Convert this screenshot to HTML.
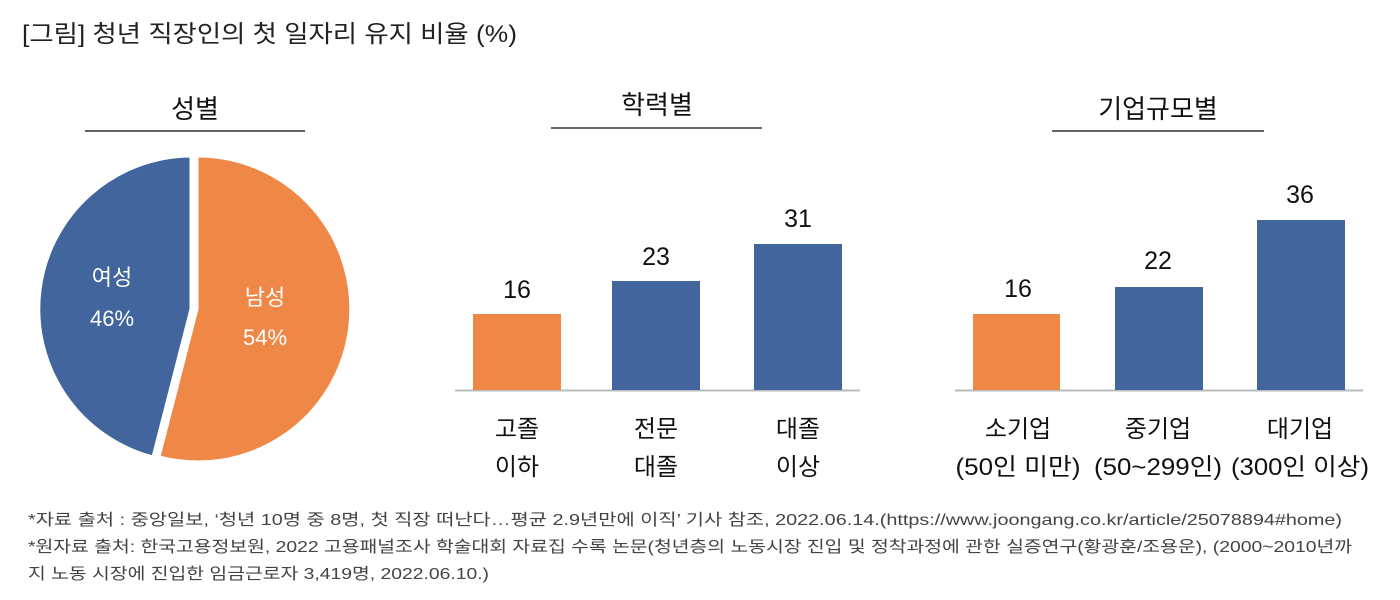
<!DOCTYPE html>
<html><head><meta charset="utf-8"><style>
html,body{margin:0;padding:0;background:#fff;}
svg{display:block;font-family:"Liberation Sans","Noto Sans CJK KR",sans-serif;}
</style></head><body>
<svg width="1400" height="600" viewBox="0 0 1400 600" xmlns="http://www.w3.org/2000/svg">
<text x="22" y="42" font-size="24" fill="#222" textLength="495" lengthAdjust="spacingAndGlyphs">[그림] 청년 직장인의 첫 일자리 유지 비율 (%)</text>

<g font-size="26" fill="#111" text-anchor="middle">
<text x="195" y="118">성별</text>
<text x="657" y="114">학력별</text>
<text x="1158" y="118">기업규모별</text>
</g>
<g stroke="#666" stroke-width="2">
<line x1="85" y1="131" x2="305" y2="131"/>
<line x1="551" y1="128" x2="762" y2="128"/>
<line x1="1052" y1="131" x2="1264" y2="131"/>
</g>

<!-- pie: center (195,309), r 153 -->
<path d="M197,309 L197,156 A153,153 0 1 1 159,457 Z" fill="#EF8747" stroke="#fff" stroke-width="3"/>
<path d="M191,309 L153,457 A153,153 0 0 1 191,156 Z" fill="#42659E" stroke="#fff" stroke-width="3"/>
<g font-size="22" fill="#fff" text-anchor="middle">
<text x="112" y="285">여성</text>
<text x="112" y="326">46%</text>
<text x="265" y="305">남성</text>
<text x="265" y="345">54%</text>
</g>

<line x1="455" y1="390.5" x2="860" y2="390.5" stroke="#bbb" stroke-width="2"/>
<rect x="473" y="314" width="88" height="76" fill="#EF8747"/>
<rect x="612" y="281" width="88" height="109" fill="#42659E"/>
<rect x="754" y="244" width="88" height="146" fill="#42659E"/>
<g font-size="25" fill="#111" text-anchor="middle">
<text x="517" y="298">16</text>
<text x="656" y="265">23</text>
<text x="798" y="227">31</text>
</g>
<g font-size="24" fill="#111" text-anchor="middle">
<text x="517" y="437">고졸</text><text x="517" y="475">이하</text>
<text x="656" y="437">전문</text><text x="656" y="475">대졸</text>
<text x="798" y="437">대졸</text><text x="798" y="475">이상</text>
</g>

<line x1="955" y1="390.5" x2="1363" y2="390.5" stroke="#bbb" stroke-width="2"/>
<rect x="973" y="314" width="87" height="76" fill="#EF8747"/>
<rect x="1115" y="287" width="88" height="103" fill="#42659E"/>
<rect x="1257" y="220" width="88" height="170" fill="#42659E"/>
<g font-size="25" fill="#111" text-anchor="middle">
<text x="1018" y="297">16</text>
<text x="1158" y="269">22</text>
<text x="1300" y="203">36</text>
</g>
<g font-size="24" fill="#111" text-anchor="middle">
<text x="1018" y="437">소기업</text><text x="1018" y="475" textLength="125" lengthAdjust="spacingAndGlyphs">(50인 미만)</text>
<text x="1158" y="437">중기업</text><text x="1158" y="475" textLength="128" lengthAdjust="spacingAndGlyphs">(50~299인)</text>
<text x="1300" y="437">대기업</text><text x="1300" y="475" textLength="138" lengthAdjust="spacingAndGlyphs">(300인 이상)</text>
</g>

<g font-size="16" fill="#444">
<text x="28" y="525" textLength="1314" lengthAdjust="spacingAndGlyphs">*자료 출처 : 중앙일보, ‘청년 10명 중 8명, 첫 직장 떠난다…평균 2.9년만에 이직’ 기사 참조, 2022.06.14.(https://www.joongang.co.kr/article/25078894#home)</text>
<text x="28" y="552" textLength="1324" lengthAdjust="spacingAndGlyphs">*원자료 출처: 한국고용정보원, 2022 고용패널조사 학술대회 자료집 수록 논문(청년층의 노동시장 진입 및 정착과정에 관한 실증연구(황광훈/조용운), (2000~2010년까</text>
<text x="28" y="579" textLength="461" lengthAdjust="spacingAndGlyphs">지 노동 시장에 진입한 임금근로자 3,419명, 2022.06.10.)</text>
</g>
</svg>
</body></html>
